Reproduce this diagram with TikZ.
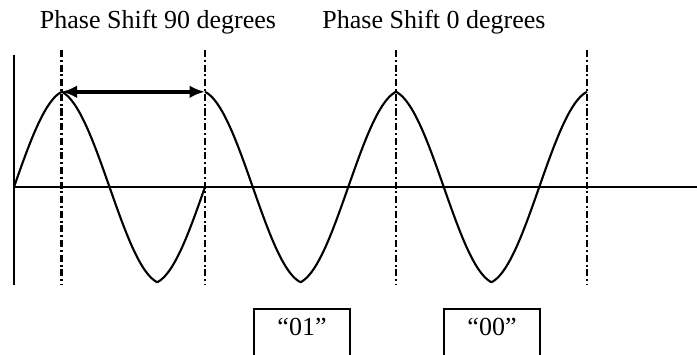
\documentclass[tikz,border=0pt]{standalone}
\usepackage{fontspec}
\setmainfont{Liberation Serif}
\usetikzlibrary{arrows.meta}
\begin{document}
\begin{tikzpicture}[
  guide/.style={line width=1.7pt, dash pattern=on 5pt off 2pt on 1.4pt off 2pt},
  wave/.style={line width=1.5pt, smooth},
  lbl/.style={font=\fontsize{18.5}{22}\selectfont, anchor=base, inner sep=0pt},
  bitbox/.style={draw, line width=1.2pt, anchor=north, minimum width=2.4cm,
    font=\fontsize{18.5}{22}\selectfont, text height=0.55cm, text depth=1.2cm, inner ysep=0.125cm}
]
\useasboundingbox (-0.35,-4.175) rectangle (17.075,4.675);
\clip (-0.35,-4.175) rectangle (17.075,4.675);
% Assi
\draw[line width=1.4pt] (0,3.3) -- (0,-2.45);
\draw[line width=1.4pt] (0,0) -- (17.1,0);
% linee di riferimento
\foreach \xg in {1.19,4.775,9.55,14.325}
  \draw[guide] (\xg,3.425) -- (\xg,-2.425);
% onda prima e dopo il salto di fase (seno con un po' di triangolo)
\draw[wave] plot[domain=0:4.775, samples=120]
  (\x, {2.38*(0.75*sin(360*\x/4.775)+0.25*asin(sin(360*\x/4.775))/90)});
\draw[wave] plot[domain=4.775:14.325, samples=240]
  (\x, {2.38*(0.75*cos(360*(\x-4.775)/4.775)+0.25*asin(cos(360*(\x-4.775)/4.775))/90)});
% freccia sul salto
\coordinate (pk1) at (1.19,2.38);
\coordinate (pk2) at (4.775,2.38);
\draw[line width=2.6pt, {Latex[length=11pt,width=9pt]}-{Latex[length=11pt,width=9pt]}] (pk1) -- (pk2);
% etichette
\node[lbl] (shift90) at (3.6,3.975) {Phase Shift 90 degrees};
\node[lbl] (shift0) at (10.5,3.975) {Phase Shift 0 degrees};
\node[bitbox] (bit01) at (7.2,-3.025) {“01”};
\node[bitbox] (bit00) at (11.95,-3.025) {“00”};
\end{tikzpicture}
\end{document}
